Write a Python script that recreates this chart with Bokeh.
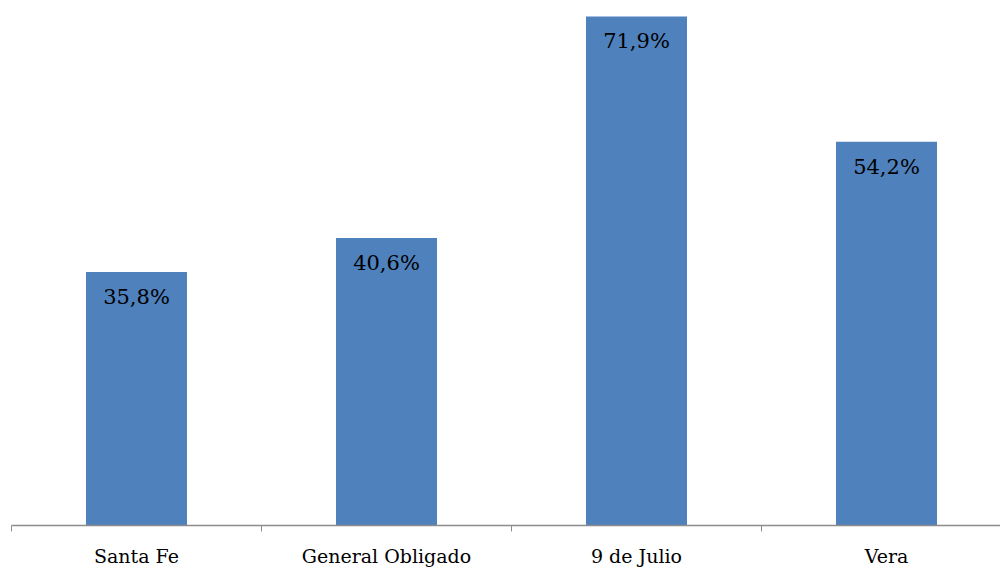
from bokeh.plotting import figure
from bokeh.models import ColumnDataSource, FixedTicker, Range1d
from bokeh.core.properties import value
from bokeh.embed import file_html
from bokeh.resources import INLINE

categories = ["Santa Fe", "General Obligado", "9 de Julio", "Vera"]
values = [35.8, 40.6, 71.9, 54.2]
labels = ["35,8%", "40,6%", "71,9%", "54,2%"]

xs = [i + 0.5 for i in range(len(categories))]
src = ColumnDataSource(dict(x=xs, top=values, label=labels))

W, H = 1000, 569
p = figure(width=W, height=H, output_backend="svg", toolbar_location=None,
           x_range=Range1d(0, (W - 11) / 250), y_range=Range1d(0, 527 / 7.107),
           min_border_left=11, min_border_right=0, min_border_top=0,
           min_border_bottom=H - 527)
p.outline_line_color = None
p.grid.grid_line_color = None
p.yaxis.visible = False

p.vbar(x="x", top="top", width=0.404, bottom=0, source=src,
       fill_color="#4F81BD", line_color=None)
p.text(x="x", y="top", text="label", source=src, text_align="center",
       text_baseline="top", y_offset=13, text_font=value("DejaVu Serif"),
       text_font_size="21px", text_color="#000000")

ax = p.xaxis[0]
ax.ticker = FixedTicker(ticks=xs, minor_ticks=[0, 1, 2, 3, 4])
ax.major_label_overrides = {x: c for x, c in zip(xs, categories)}
ax.major_tick_out = 0
ax.major_tick_in = 0
ax.minor_tick_out = 6
ax.minor_tick_in = 0
ax.axis_line_color = "#8C8C8C"
ax.minor_tick_line_color = "#8C8C8C"
ax.axis_line_width = 1.3
ax.major_label_standoff = 13
ax.major_label_text_font = "DejaVu Serif"
ax.major_label_text_font_size = "19px"
ax.major_label_text_color = "#000000"

open("out.html", "w").write(file_html(p, INLINE))
